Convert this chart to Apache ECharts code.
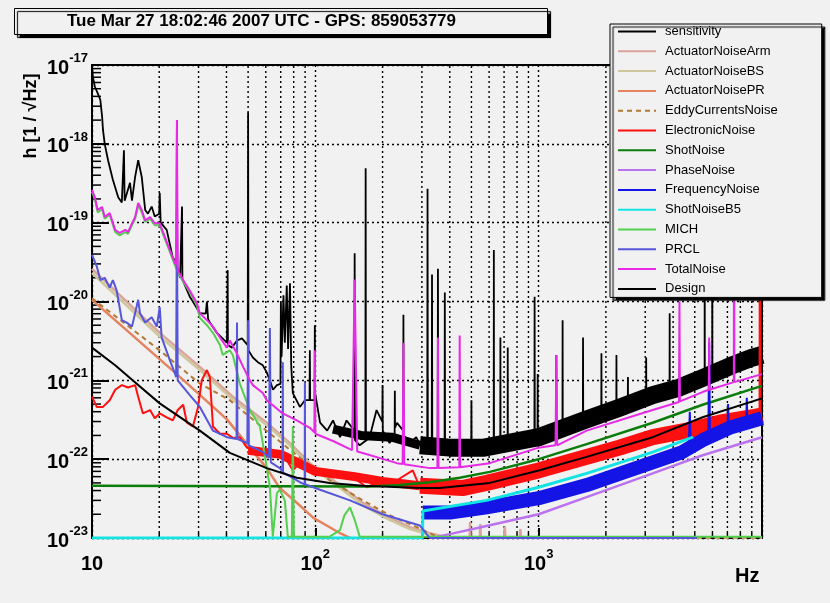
<!DOCTYPE html>
<html>
<head>
<meta charset="utf-8">
<script src="https://cdn.jsdelivr.net/npm/echarts@6/dist/echarts.min.js"></script>
<style>
html,body{margin:0;padding:0;background:#f1f1f1;}
#c{width:830px;height:603px;}
</style>
</head>
<body>
<div id="c"></div>
<script>
// ---------------- data (frequency in Hz, amplitude h in 1/sqrt(Hz)) ----------------
const titleText = 'Tue Mar 27 18:02:46 2007 UTC - GPS: 859053779';
const seriesNames = ['sensitivity','ActuatorNoiseArm','ActuatorNoiseBS','ActuatorNoisePR','EddyCurrentsNoise',
  'ElectronicNoise','ShotNoise','PhaseNoise','FrequencyNoise','ShotNoiseB5','MICH','PRCL','TotalNoise','Design'];
const yTickExponents = ['-23','-22','-21','-20','-19','-18','-17'];
const xTickLabels = ['10','10|2','10|3',''];
const xGridFreqs = [20,30,40,50,60,70,80,90,200,300,400,500,600,700,800,900,2000,3000,4000,5000,6000,7000,8000,9000];
const yMinorTicks = [2e-23,3e-23,4e-23,5e-23,6e-23,7e-23,8e-23,9e-23,2e-22,3e-22,4e-22,5e-22,6e-22,7e-22,8e-22,9e-22,
  2e-21,3e-21,4e-21,5e-21,6e-21,7e-21,8e-21,9e-21,2e-20,3e-20,4e-20,5e-20,6e-20,7e-20,8e-20,9e-20,
  2e-19,3e-19,4e-19,5e-19,6e-19,7e-19,8e-19,9e-19,2e-18,3e-18,4e-18,5e-18,6e-18,7e-18,8e-18,9e-18];

const sensitivity = [[10,9.7e-18],[10.1,7.0e-18],[10.3,5.3e-18],[10.6,4.4e-18],[10.9,3.6e-18],[11.1,2.2e-18],[11.2,1.5e-18],[11.4,1.0e-18],[11.8,6.2e-19],[12.4,3.5e-19],[13.1,2.1e-19],[13.6,1.8e-19],[13.8,1.9e-19],[13.9,8.3e-19],[14.0,1.9e-19],[14.8,3.2e-19],[15.1,1.9e-19],[15.6,3.8e-19],[16.1,6.2e-19],[16.7,3.8e-19],[17.3,1.45e-19],[17.8,1.3e-19],[18.5,1.6e-19],[19.1,1.2e-19],[20.0,1.3e-19],[20.1,2.4e-19],[20.3,1.0e-19],[21.6,8.1e-20],[23.0,3.6e-20],[23.9,3.1e-20],[24.0,2.0e-18],[24.1,2.7e-20],[24.8,2.0e-20],[25.2,2.0e-20],[25.3,1.6e-19],[25.4,1.9e-20],[26.6,1.4e-20],[27.4,1.15e-20],[28.3,1.0e-20],[30.4,7.1e-21],[32.3,7.0e-21],[32.7,1.0e-20],[33.1,6.0e-21],[33.7,5.4e-21],[36.2,4.0e-21],[40.2,3.0e-21],[40.4,3.0e-21],[40.5,2.5e-20],[40.6,2.8e-21],[42.3,2.6e-21],[44.6,3.2e-21],[46.9,3.4e-21],[49.8,2.8e-21],[50.0,2.5e-18],[50.2,2.4e-21],[52.5,1.95e-21],[55.3,1.7e-21],[58.2,1.55e-21],[60.6,1.26e-21],[62.6,1.0e-21],[64.6,7.6e-22],[67.3,8.7e-22],[69.8,9.0e-22],[70.1,1.0e-20],[70.6,2.0e-21],[72.0,1.2e-20],[73.0,3.0e-21],[74.5,1.6e-20],[75.5,2.5e-21],[77.0,1.7e-20],[78.0,1.5e-21],[79.3,6.9e-22],[85.3,4.6e-22],[89.8,5.6e-22],[94.2,5.6e-22],[94.5,2.4e-21],[94.8,5.6e-22],[99.2,5.6e-22],[99.5,5.0e-21],[99.8,6.9e-22],[105,2.9e-22],[113,2.3e-22],[120,3.1e-22],[129,1.9e-22],[138,3.1e-22],[149.5,2.3e-22],[150,4.1e-20],[150.5,1.74e-22],[158,1.5e-22],[167.5,1.7e-22],[168,4.9e-19],[168.5,1.7e-22],[175,1.9e-22],[188,4.2e-22],[199.5,3.0e-22],[200,8.7e-22],[200.5,2.3e-22],[215,1.6e-22],[226.5,2.0e-22],[227,7.4e-22],[227.5,2.5e-22],[232,2.9e-22],[247.5,2.3e-22],[248,6.8e-21],[248.5,2.0e-22],[265,1.6e-22],[283,1.9e-22],[303,1.3e-22],[317,1.5e-22],[318,2.7e-19],[319,1.5e-22],[332,1.5e-22],[333,2.2e-20],[334,1.5e-22],[353,1.5e-22],[354,2.6e-20],[355,1.5e-22],[379,1.4e-22],[380,1.3e-20],[381,1.4e-22],[400,1.3e-22],[455,1.7e-22],[499,1.4e-22],[500,5.6e-22],[501,1.4e-22],[520,1.2e-22],[629,1.4e-22],[630,4.5e-20],[631,1.4e-22],[673,1.5e-22],[674,3.5e-21],[675,1.5e-22],[726,1.6e-22],[727,2.6e-21],[728,1.6e-22],[957,1.8e-22],[959,1.15e-20],[961,1.8e-22],[988,1.9e-22],[990,1.2e-21],[992,1.9e-22],[1198,2.2e-22],[1200,2.1e-21],[1202,2.2e-22],[1278,2.3e-22],[1280,5.8e-21],[1282,2.3e-22],[1577,2.9e-22],[1580,3.5e-21],[1583,2.9e-22],[1907,3.8e-22],[1910,2.2e-21],[1913,3.8e-22],[2227,4.6e-22],[2230,2.1e-21],[2233,4.6e-22],[2507,5.2e-22],[2510,1.1e-21],[2513,5.2e-22],[3026,6.2e-22],[3030,1.95e-21],[3034,6.2e-22],[3855,7.7e-22],[3860,7.1e-21],[3865,7.7e-22],[5535,1.07e-21],[5540,3.6e-18],[5545,1.07e-21],[5985,1.15e-21],[5990,3.6e-18],[5995,1.15e-21],[9790,2.0e-21],[9800,1e-17],[9810,2.0e-21],[10000,2.1e-21]];
const sensitivityBandMid = [[120,2.4e-22],[160,2.0e-22],[220,1.9e-22],[294,1.5e-22]];
const sensitivityBand = [[294,1.5e-22],[400,1.4e-22],[570,1.4e-22],[1000,1.9e-22],[1640,3.2e-22],[2300,4.5e-22],[3240,6.5e-22],[4270,8.1e-22],[5420,1.07e-21],[7150,1.5e-21],[9100,1.95e-21],[10000,2.1e-21]];

const actuatorArm = [[10,2.6e-20],[20.1,4.0e-21],[30.4,1.48e-21],[42.7,6.2e-22],[60.6,2.9e-22],[76.9,1.6e-22],[94.5,8.9e-23],[125,5.0e-23],[163,2.8e-23],[215,1.8e-23],[265,1.37e-23],[325,1.15e-23],[400,1.0e-23],[491,1.0e-23],[493,1.6e-23],[495,1.0e-23],[545,1.0e-23],[548,1.5e-23],[551,1.0e-23],[700,1.0e-23],[705,1.4e-23],[710,1.0e-23],[822,1.0e-23],[828,1.3e-23],[835,1.0e-23],[1000,1.0e-23]];
const actuatorBS = [[10,2.3e-20],[20.1,3.6e-21],[30.4,1.35e-21],[42.7,5.7e-22],[60.6,2.7e-22],[76.9,1.5e-22],[94.5,8.3e-23],[125,4.6e-23],[163,2.6e-23],[215,1.7e-23],[265,1.3e-23],[325,1.1e-23],[400,1.0e-23]];
const actuatorPR = [[10,1.05e-20],[24.8,1.1e-21],[40.2,3.2e-22],[50.9,1.4e-22],[60.6,7.7e-23],[69.3,4.3e-23],[82.6,2.8e-23],[98,1.8e-23],[116,1.37e-23],[129,1.15e-23],[143,1.0e-23]];
const eddyCurrents = [[10,1.1e-20],[20.1,2.4e-21],[30.4,9.1e-22],[41.4,5.6e-22],[58.2,2.5e-22],[82.6,1.12e-22],[116,5.4e-23],[163,3.0e-23],[215,1.95e-23],[294,1.32e-23],[361,1.0e-23]];
const eddyCurrentsHigh = [[5100,1.0e-23],[10000,1.0e-23]];

const electronic = [[10,6.2e-22],[10.5,4.6e-22],[11.2,4.6e-22],[12.0,5.6e-22],[12.7,7.6e-22],[13.6,8.7e-22],[14.5,8.1e-22],[15.6,8.7e-22],[16.1,6.2e-22],[16.9,3.8e-22],[18.2,4.2e-22],[19.1,3.3e-22],[20.1,3.8e-22],[21.6,3.4e-22],[23.0,3.1e-22],[24.2,4.2e-22],[25.6,4.9e-22],[26.6,2.9e-22],[28.3,2.6e-22],[29.8,4.5e-22],[31.0,1.0e-21],[32.7,1.35e-21],[33.7,1.1e-21],[34.8,2.6e-22],[37.4,2.1e-22],[40.2,2.1e-22],[42.7,1.86e-22],[45.9,1.9e-22],[49.4,1.4e-22],[52.5,1.3e-22],[60.6,1.2e-22],[71.5,1.2e-22],[79.3,7.2e-23],[85.3,8.9e-23],[99.5,6.6e-23],[120,5.9e-23],[143,6.3e-23],[170,4.4e-23],[200,5.4e-23],[232,5.4e-23],[273,7.2e-23],[294,4.4e-23]];
const electronicSpike = [[9750,3.6e-22],[9800,1e-17],[9850,3.6e-22]];
const electronicBandLow = [[50,1.3e-22],[70,1.15e-22],[100,7.0e-23],[150,6.0e-23],[200,5.2e-23],[294,4.6e-23]];
const electronicBandHigh = [[294,4.6e-23],[455,4.3e-23],[585,5.0e-23],[1000,7.2e-23],[1640,1.07e-22],[2300,1.4e-22],[3240,1.9e-22],[4600,2.3e-22],[6450,2.9e-22],[9100,3.4e-22],[10000,3.6e-22]];

const shotNoise = [[10,4.6e-23],[175,4.5e-23],[239,4.7e-23],[325,5.1e-23],[443,5.8e-23],[604,6.9e-23],[1000,1.0e-22],[1640,1.55e-22],[3240,2.9e-22],[5420,4.9e-22],[10000,8.5e-22]];
const phaseNoise = [[330,1.0e-23],[400,1.12e-23],[570,1.4e-23],[1000,2.0e-23],[1640,3.3e-23],[3240,6.6e-23],[5420,1.12e-22],[10000,1.9e-22]];
const frequencyNoise = [[4700,1.5e-22],[4750,4.0e-22],[4800,1.5e-22],[5750,1.8e-22],[5800,3.0e-21],[5850,1.8e-22],[7000,2.4e-22],[7050,5.0e-22],[7100,2.4e-22],[8500,2.9e-22],[8550,6.0e-22],[8600,2.9e-22]];
const frequencyNoiseBand = [[303,2.1e-23],[400,2.1e-23],[585,2.45e-23],[1000,3.2e-23],[1640,4.7e-23],[3240,9.1e-23],[4400,1.23e-22],[5420,1.74e-22],[7150,2.5e-22],[10000,3.3e-22]];
const shotNoiseB5 = [[10,1.0e-23],[302,1.0e-23],[303,2.2e-23],[585,3.0e-23],[1000,4.4e-23],[1640,6.6e-23],[3240,1.23e-22],[4900,1.9e-22]];

const mich = [[10,2.45e-19],[10.3,2.0e-19],[10.6,1.35e-19],[11.1,1.48e-19],[11.4,1.12e-19],[12.0,1.26e-19],[12.7,7.6e-20],[13.3,6.9e-20],[14.1,7.6e-20],[14.5,7.2e-20],[15.1,9.3e-20],[15.6,1.12e-19],[16.1,1.66e-19],[16.7,1.35e-19],[17.3,1.02e-19],[18.2,1.12e-19],[19.1,9.3e-20],[20.1,9.3e-20],[21.2,6.2e-20],[22.3,4.3e-20],[23.5,2.9e-20],[24.2,2.35e-20],[25.6,1.78e-20],[27.4,1.32e-20],[29.5,8.9e-21],[30.4,6.2e-21],[32.7,5.0e-21],[34.8,4.0e-21],[37.4,2.8e-21],[38.5,2.1e-21],[41.4,2.4e-21],[42.7,2.1e-21],[45.9,9.1e-22],[50.9,4.2e-22],[56.5,2.6e-22],[60.6,7.9e-23],[62.6,4.4e-23],[64.5,1.04e-23],[67.3,3.7e-23],[69.3,4.1e-23],[73.0,3.0e-23],[75.3,1.04e-23],[78.5,1.04e-23],[79.3,2.6e-22],[80.1,1.04e-23],[116,1.04e-23],[129,1.26e-23],[135,1.95e-23],[143,2.45e-23],[150,1.7e-23],[158,1.04e-23],[10000,1.04e-23]];
const prcl = [[10,3.9e-20],[10.5,2.8e-20],[10.9,1.87e-20],[11.4,2.0e-20],[12.0,1.5e-20],[12.4,1.87e-20],[12.9,1.38e-20],[13.6,5.8e-21],[14.3,5.4e-21],[15.1,4.8e-21],[16.1,1.05e-20],[16.4,7.1e-21],[17.3,5.4e-21],[18.5,6.3e-21],[19.5,4.8e-21],[20.1,8.5e-21],[20.5,3.5e-21],[22.3,1.8e-21],[23.5,1.23e-21],[23.8,1.1e-21],[24.0,1.32e-19],[24.2,1.0e-21],[27.4,6.5e-22],[30.4,4.6e-22],[34.8,2.3e-22],[40.2,1.9e-22],[44.4,1.8e-22],[44.6,5.4e-21],[44.8,1.8e-22],[49.6,1.6e-22],[50.0,5.8e-21],[50.4,1.5e-22],[58.2,1.23e-22],[62.0,1.05e-22],[62.6,4.6e-21],[63.2,9.1e-23],[69.3,7.7e-23],[71.3,7.0e-23],[71.5,1.7e-21],[71.7,6.8e-23],[85.3,5.1e-23],[89.6,4.8e-23],[89.8,9.3e-22],[90.0,4.8e-23],[105,4.1e-23],[143,3.0e-23],[200,2.0e-23],[294,1.44e-23],[325,1.0e-23],[5100,1.0e-23]];
const totalNoise = [[10,2.6e-19],[10.3,2.1e-19],[10.6,1.45e-19],[11.1,1.58e-19],[11.4,1.18e-19],[12.0,1.32e-19],[12.7,8.1e-20],[13.3,7.4e-20],[14.1,8.1e-20],[14.5,7.6e-20],[15.1,9.8e-20],[15.6,1.18e-19],[16.1,1.78e-19],[16.7,1.45e-19],[17.3,1.07e-19],[18.2,1.18e-19],[19.1,9.8e-20],[20.1,9.8e-20],[21.2,6.6e-20],[22.3,4.5e-20],[23.5,3.1e-20],[23.8,2.9e-20],[24.0,2.0e-18],[24.2,2.5e-20],[25.6,1.87e-20],[27.4,1.38e-20],[29.5,9.5e-21],[30.4,7.1e-21],[32.7,5.8e-21],[34.8,4.8e-21],[37.4,3.5e-21],[40.2,2.6e-21],[41.4,3.2e-21],[44.5,2.2e-21],[47.5,1.48e-21],[50.9,1.0e-21],[52.5,8.7e-22],[58.2,6.9e-22],[60.6,5.6e-22],[71.5,3.8e-22],[82.6,3.1e-22],[94.5,2.5e-22],[99.0,2.2e-22],[99.5,2.4e-21],[100,2.1e-22],[120,1.7e-22],[146,1.3e-22],[150,1.9e-20],[154,1.25e-22],[163,1.2e-22],[232,8.9e-23],[246,8.7e-23],[248,3.0e-21],[250,8.6e-23],[325,7.7e-23],[352,7.7e-23],[354,3.5e-21],[356,7.7e-23],[441,7.9e-23],[443,3.7e-21],[445,7.9e-23],[604,8.9e-23],[1000,1.4e-22],[1190,1.5e-22],[1200,2.1e-21],[1210,1.5e-22],[1640,2.3e-22],[3240,4.2e-22],[4250,5.3e-22],[4270,1.0e-20],[4290,5.4e-22],[5420,7.1e-22],[5780,7.6e-22],[5800,3.5e-21],[5820,7.6e-22],[7480,9.5e-22],[7500,3.6e-18],[7520,9.5e-22],[10000,1.2e-21]];
const design = [[10,2.6e-21],[12.7,1.55e-21],[15.2,1.0e-21],[20.1,5.1e-22],[30.4,2.3e-22],[41.4,1.2e-22],[60.6,7.7e-23],[82.6,5.8e-23],[116,5.0e-23],[163,4.6e-23],[294,4.3e-23],[361,4.3e-23],[604,5.0e-23],[1000,7.2e-23],[1640,1.07e-22],[3240,1.9e-22],[5420,3.4e-22],[10000,5.9e-22]];

// ---------------- chart ----------------
const FONT = 'Liberation Sans';
const chart = echarts.init(document.getElementById('c'), null, {renderer: 'canvas'});

function line(name, data, color, width, extra) {
  return Object.assign({
    name: name, type: 'line', data: data, symbol: 'none', showSymbol: false,
    animation: false, silent: true, clip: true,
    lineStyle: {color: color, width: width, join: 'bevel'},
    itemStyle: {color: color}
  }, extra || {});
}
function band(name, data, color, width) {
  return line(name, data, color, width, {lineStyle: {color: color, width: width, join: 'round', cap: 'butt'}});
}

// dotted vertical grid lines at 2..9 x decade
const vGrid = {
  type: 'custom', name: 'vgrid', silent: true, animation: false, z: 1, clip: true,
  data: xGridFreqs.map(f => [f, 1e-20]),
  renderItem: function (params, api) {
    const f = api.value(0);
    const p1 = api.coord([f, 1e-23]);
    const p2 = api.coord([f, 1e-17]);
    return {type: 'line', shape: {x1: p1[0], y1: p1[1], x2: p2[0], y2: p2[1]},
      style: {stroke: '#000', lineWidth: 1.4, lineDash: [2, 3]}};
  }
};
const yMinor = {
  type: 'custom', name: 'yminor', silent: true, animation: false, z: 3,
  data: yMinorTicks.map(v => [10, v]),
  renderItem: function (params, api) {
    const p = api.coord([10, api.value(1)]);
    return {type: 'line', shape: {x1: p[0], y1: p[1], x2: p[0] + 9, y2: p[1]},
      style: {stroke: '#000', lineWidth: 1.5}};
  }
};
const xMinor = {
  type: 'custom', name: 'xminor', silent: true, animation: false, z: 3,
  data: xGridFreqs.map(f => [f, 1e-23]),
  renderItem: function (params, api) {
    const p = api.coord([api.value(0), 1e-23]);
    return {type: 'line', shape: {x1: p[0], y1: p[1], x2: p[0], y2: p[1] - 5},
      style: {stroke: '#000', lineWidth: 1.5}};
  }
};

const series = [
  vGrid,
  line('sensitivity', sensitivity, '#000000', 1.8),
  band('sensitivity', sensitivityBandMid, '#000000', 9),
  band('sensitivity', sensitivityBand, '#000000', 18),
  line('ActuatorNoiseArm', actuatorArm, '#d9a49c', 2.5),
  line('ActuatorNoiseBS', actuatorBS, '#cfc79c', 2.5),
  line('ActuatorNoisePR', actuatorPR, '#e4835f', 2.5),
  line('EddyCurrentsNoise', eddyCurrents, '#b07a34', 2, {lineStyle: {color: '#b07a34', width: 2, type: [5, 4]}}),
  line('EddyCurrentsNoise', eddyCurrentsHigh, '#d0a060', 2, {lineStyle: {color: '#d0a060', width: 2, type: [5, 4]}}),
  line('ElectronicNoise', electronic, '#ff1010', 2),
  line('ElectronicNoise', electronicSpike, '#ff1010', 2),
  band('ElectronicNoise', electronicBandLow, '#ff1010', 9),
  band('ElectronicNoise', electronicBandHigh, '#ff1010', 16),
  line('ShotNoise', shotNoise, '#0a7d0a', 2.5),
  line('PhaseNoise', phaseNoise, '#bb72ee', 2.5),
  line('FrequencyNoise', frequencyNoise, '#1414e6', 2),
  band('FrequencyNoise', frequencyNoiseBand, '#1414e6', 14),
  line('ShotNoiseB5', shotNoiseB5, '#12e4e4', 3),
  line('MICH', mich, '#55cf4f', 2),
  line('PRCL', prcl, '#5656da', 2),
  line('TotalNoise', totalNoise, '#e62ae6', 2),
  line('Design', design, '#000000', 2),
  yMinor, xMinor
];

const labelRich = {
  b: {fontSize: 20, fontWeight: 'bold', fontFamily: FONT, color: '#000', lineHeight: 26, verticalAlign: 'bottom'},
  s: {fontSize: 13, fontWeight: 'bold', fontFamily: FONT, color: '#000', lineHeight: 26, verticalAlign: 'top'}
};

chart.setOption({
  backgroundColor: '#f1f1f1',
  animation: false,
  title: {
    text: titleText, left: 14, top: 8, padding: [5, 92, 5, 53],
    textStyle: {fontFamily: FONT, fontWeight: 'bold', fontSize: 17, color: '#000'},
    backgroundColor: '#f1f1f1', borderColor: '#000', borderWidth: 1,
    shadowColor: '#000', shadowOffsetX: 3, shadowOffsetY: 3, shadowBlur: 1
  },
  legend: {
    orient: 'vertical', left: 610, top: 24, padding: [1, 44, 2, 7],
    itemWidth: 38, itemHeight: 14, itemGap: 6.8,
    data: seriesNames,
    itemStyle: {opacity: 0},
    lineStyle: {width: 2},
    backgroundColor: '#f1f1f1', borderColor: '#000', borderWidth: 1,
    shadowColor: '#000', shadowOffsetX: 3, shadowOffsetY: 3, shadowBlur: 1,
    textStyle: {fontFamily: FONT, fontSize: 13, color: '#000', padding: [0, 0, 0, 4]},
    selectedMode: false, z: 20
  },
  grid: {
    left: 92, right: 68, top: 65, bottom: 65, show: true,
    borderColor: '#000', borderWidth: 2, backgroundColor: '#f1f1f1', containLabel: false
  },
  xAxis: {
    type: 'log', logBase: 10,
    axisLine: {show: false},
    axisTick: {show: true, inside: true, length: 10, lineStyle: {color: '#000', width: 2}},
    splitLine: {show: true, lineStyle: {color: '#000', type: [2, 3], width: 1.4}},
    axisLabel: {
      margin: 10,
      formatter: function (v) {
        const idx = Math.round(Math.log10(v)) - 1;
        const t = xTickLabels[idx] || '';
        if (!t) return '';
        const parts = t.split('|');
        return parts.length > 1 ? '{b|' + parts[0] + '}{s|' + parts[1] + '}' : '{b|' + parts[0] + '}';
      },
      rich: labelRich
    }
  },
  yAxis: {
    type: 'log', logBase: 10,
    axisLine: {show: false},
    axisTick: {show: true, inside: true, length: 17, lineStyle: {color: '#000', width: 2}},
    splitLine: {show: true, lineStyle: {color: '#000', type: [2, 3], width: 1.4}},
    axisLabel: {
      margin: 4,
      formatter: function (v) {
        const e = Math.round(Math.log10(v));
        const t = yTickExponents[e + 23];
        return '{b|10}{s|' + t + '}';
      },
      rich: labelRich
    }
  },
  graphic: [
    {type: 'text', x: 31, y: 116, rotation: Math.PI / 2, z: 30,
     style: {text: 'h [1 / \u221AHz]', font: 'bold 18px "Liberation Sans"', fill: '#000', align: 'center', verticalAlign: 'middle'}},
    {type: 'text', x: 735, y: 566, z: 30,
     style: {text: 'Hz', font: 'bold 20px "Liberation Sans"', fill: '#000'}}
  ],
  series: series
});
</script>
</body>
</html>
